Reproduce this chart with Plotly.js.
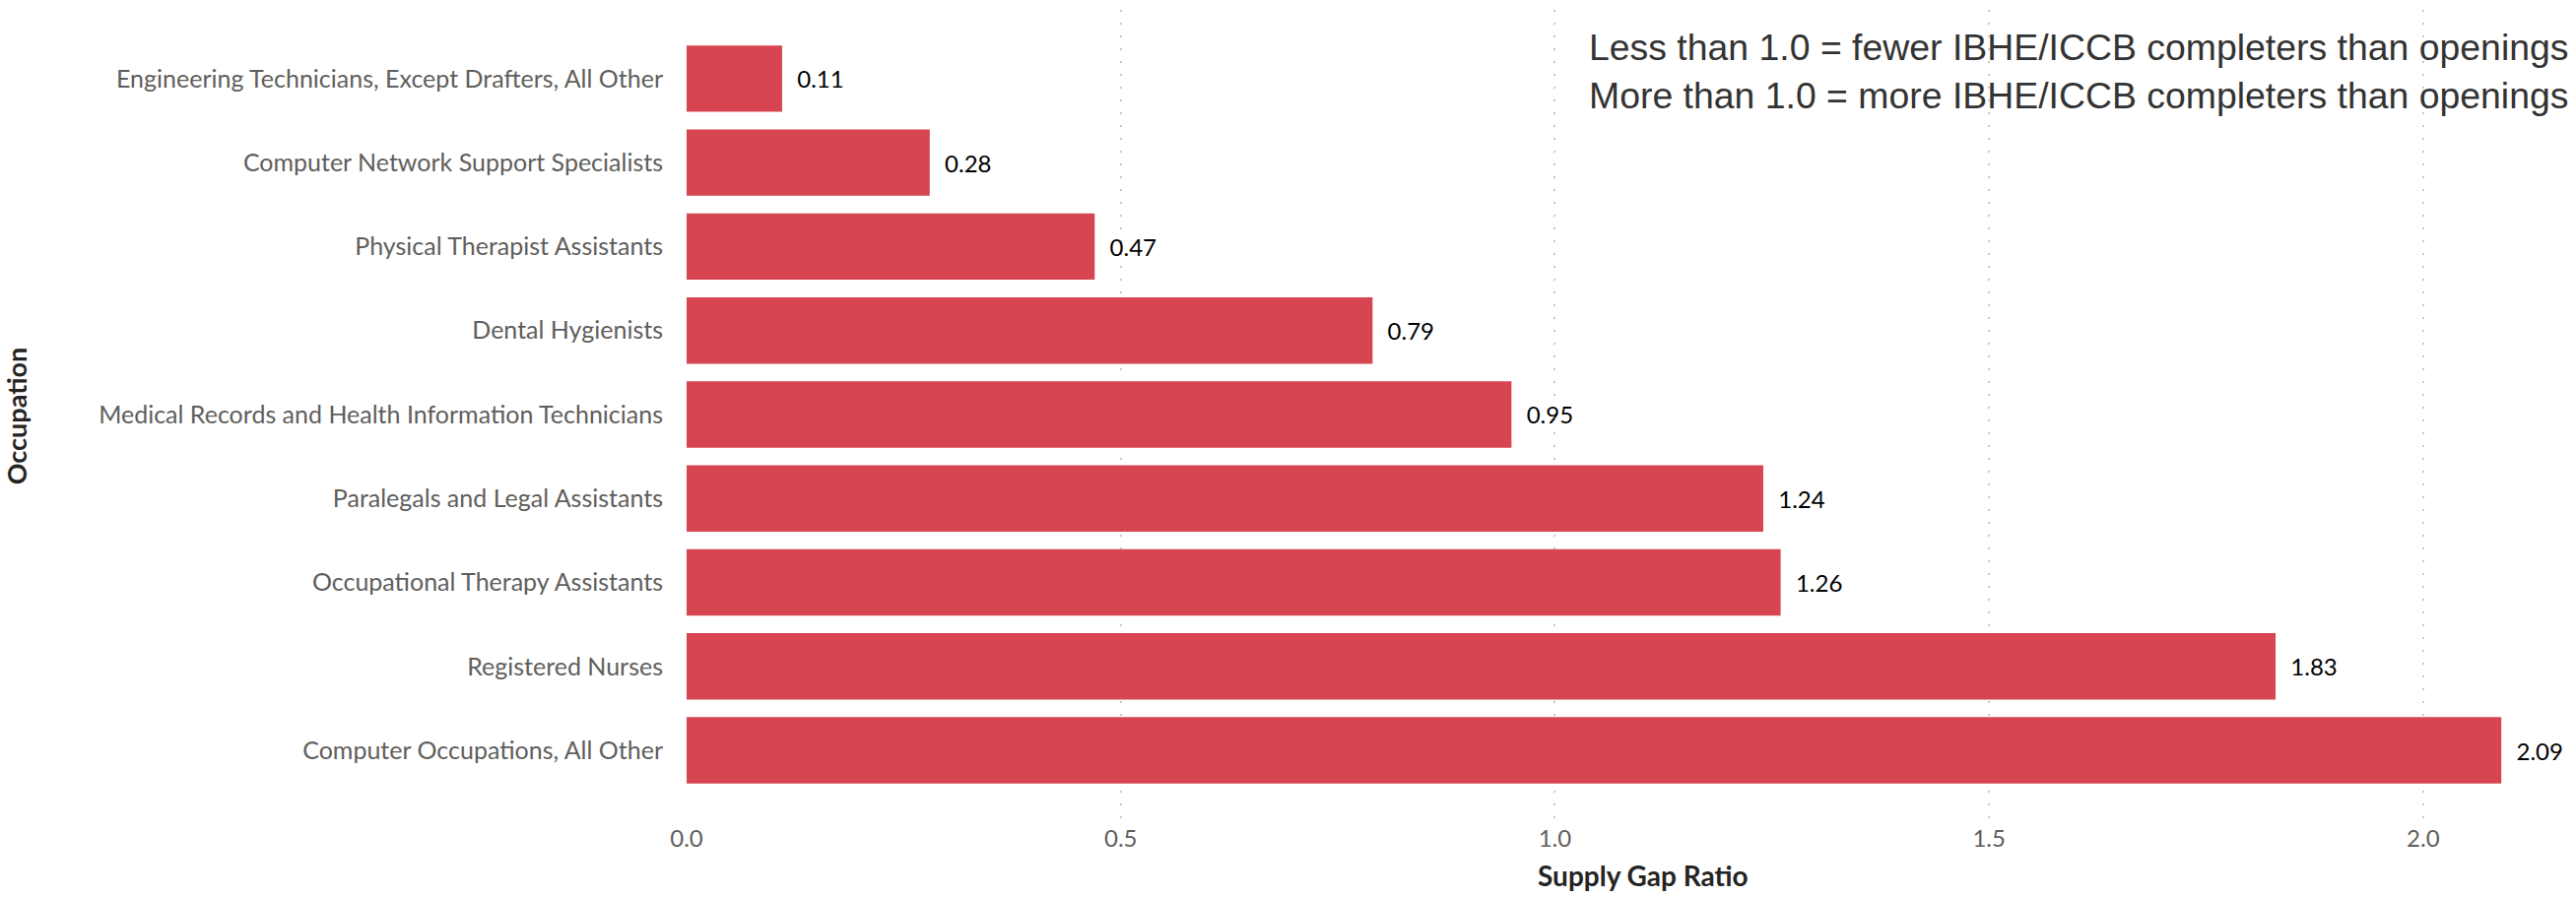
<!DOCTYPE html>
<html>
<head>
<meta charset="utf-8">
<script src="https://cdn.plot.ly/plotly-3.0.1.min.js"></script>
<style>html,body{margin:0;padding:0;background:#fff;}#chart{width:2615px;height:911px;}</style>
</head>
<body>
<div id="chart"></div>
<script>
const occupations = [
  "Engineering Technicians, Except Drafters, All Other",
  "Computer Network Support Specialists",
  "Physical Therapist Assistants",
  "Dental Hygienists",
  "Medical Records and Health Information Technicians",
  "Paralegals and Legal Assistants",
  "Occupational Therapy Assistants",
  "Registered Nurses",
  "Computer Occupations, All Other"
];
const ratios = [0.11, 0.28, 0.47, 0.79, 0.95, 1.24, 1.26, 1.83, 2.09];
const xTicks = [0, 0.5, 1, 1.5, 2];
const xTickLabels = ["0.0", "0.5", "1.0", "1.5", "2.0"];
const xTitle = "Supply Gap Ratio";
const yTitle = "Occupation";
const noteLines = [
  "Less than 1.0 = fewer IBHE/ICCB completers than openings",
  "More than 1.0 = more IBHE/ICCB completers than openings"
];

const FONT = "Lato, 'Open Sans', sans-serif";

const trace = {
  type: "bar",
  orientation: "h",
  x: ratios,
  y: occupations,
  marker: {color: "#D74550"},
  texttemplate: "\u00A0\u00A0%{x:.2f}",
  textposition: "outside",
  cliponaxis: false,
  textfont: {family: FONT, size: 24, color: "#000000"},
  hoverinfo: "x+y"
};

const layout = {
  width: 2615,
  height: 911,
  paper_bgcolor: "#ffffff",
  plot_bgcolor: "#ffffff",
  margin: {l: 697, r: 67, t: 10, b: 76, pad: 0},
  bargap: 0.21,
  showlegend: false,
  font: {family: FONT, color: "#605E5C"},
  xaxis: {
    range: [0, 2.1],
    tickvals: xTicks,
    ticktext: xTickLabels,
    showgrid: true,
    gridcolor: "#C8C8C8",
    gridwidth: 2,
    griddash: "2px,11px",
    zeroline: false,
    showline: false,
    ticks: "",
    tickfont: {family: FONT, size: 24, color: "#605E5C"},
    automargin: false
  },
  yaxis: {
    type: "category",
    categoryorder: "array",
    categoryarray: occupations,
    range: [8.856, -0.82],
    showgrid: false,
    zeroline: false,
    showline: false,
    ticks: "outside",
    ticklen: 18,
    tickcolor: "rgba(0,0,0,0)",
    tickfont: {family: FONT, size: 25, color: "#605E5C"},
    title: {text: yTitle, font: {family: FONT, size: 27, color: "#252423", weight: "bold"}, standoff: 100},
    automargin: false
  },
  annotations: [{
    xref: "paper", yref: "paper",
    x: 1.0335, y: 0.982,
    xanchor: "right", yanchor: "top",
    align: "left",
    showarrow: false,
    text: noteLines.join("<br>"),
    font: {family: "'Liberation Sans', Arial, sans-serif", size: 37.4, color: "#333333"}
  }, {
    xref: "paper", yref: "paper",
    x: 0.5246, y: -0.066,
    xanchor: "center", yanchor: "middle",
    showarrow: false,
    text: xTitle,
    font: {family: FONT, size: 28, color: "#252423", weight: "bold"}
  }]
};

Plotly.newPlot("chart", [trace], layout, {displayModeBar: false, staticPlot: true});
</script>
</body>
</html>
